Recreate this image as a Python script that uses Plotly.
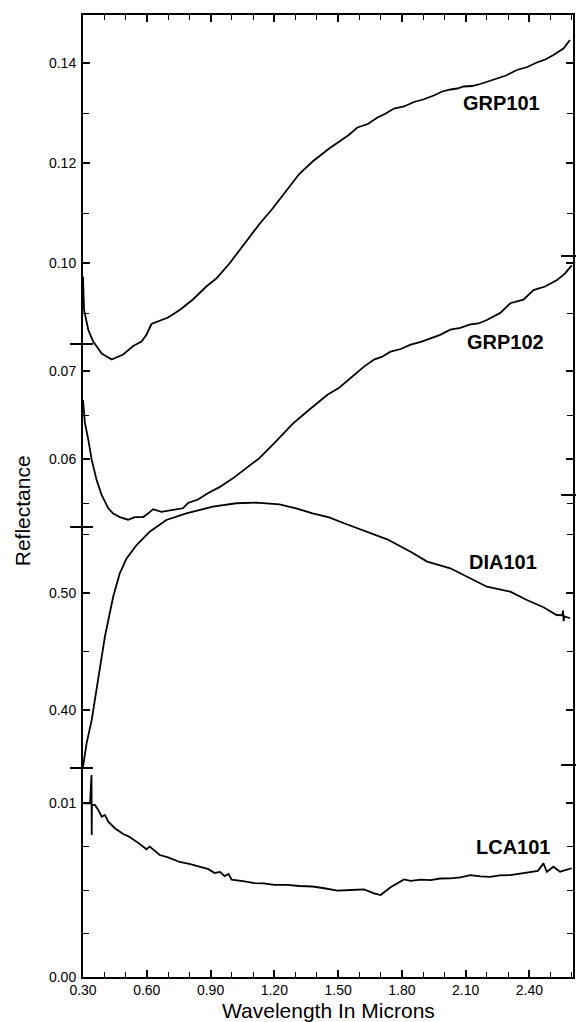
import plotly.graph_objects as go

# ---------------- data ----------------
wl_grp101 = [0.300, 0.305, 0.325, 0.348, 0.388, 0.435, 0.489, 0.536, 0.575, 0.598, 0.622, 0.653,
             0.700, 0.755, 0.817, 0.880, 0.927, 0.989, 1.067, 1.130, 1.192, 1.255, 1.317, 1.380,
             1.458, 1.513, 1.550, 1.591, 1.640, 1.685, 1.720, 1.763, 1.810, 1.857, 1.900, 1.950,
             1.990, 2.029, 2.060, 2.091, 2.130, 2.169, 2.210, 2.247, 2.290, 2.341, 2.390, 2.435,
             2.475, 2.513, 2.560, 2.591]
r_grp101 = [0.0973, 0.0906, 0.0866, 0.0843, 0.0819, 0.0807, 0.0817, 0.0834, 0.0843, 0.0856, 0.0878, 0.0883,
            0.0891, 0.0906, 0.0927, 0.0953, 0.0969, 0.0999, 0.1043, 0.1078, 0.1109, 0.1145, 0.1178, 0.1203,
            0.1229, 0.1245, 0.1256, 0.1271, 0.1278, 0.1291, 0.1298, 0.1309, 0.1313, 0.1322, 0.1327, 0.1335,
            0.1343, 0.1347, 0.1349, 0.1353, 0.1354, 0.1358, 0.1364, 0.1369, 0.1375, 0.1386, 0.1392, 0.1401,
            0.1407, 0.1416, 0.1429, 0.1446]

wl_grp102 = [0.300, 0.309, 0.325, 0.341, 0.364, 0.388, 0.419, 0.442, 0.473, 0.512, 0.544, 0.583,
             0.606, 0.630, 0.669, 0.716, 0.770, 0.794, 0.841, 0.887, 0.942, 1.005, 1.067, 1.130,
             1.208, 1.286, 1.364, 1.450, 1.505, 1.560, 1.622, 1.669, 1.705, 1.747, 1.795, 1.841,
             1.890, 1.935, 1.980, 2.028, 2.075, 2.122, 2.160, 2.200, 2.263, 2.310, 2.372, 2.419,
             2.474, 2.528, 2.568, 2.599]
r_grp102 = [0.0667, 0.0641, 0.0622, 0.0599, 0.0576, 0.0559, 0.0544, 0.0538, 0.0534, 0.0531, 0.0534, 0.0534,
            0.0538, 0.0543, 0.0540, 0.0542, 0.0544, 0.0550, 0.0554, 0.0561, 0.0568, 0.0578, 0.0589, 0.0601,
            0.0620, 0.0640, 0.0656, 0.0673, 0.0681, 0.0692, 0.0705, 0.0713, 0.0716, 0.0722, 0.0725, 0.0730,
            0.0733, 0.0737, 0.0741, 0.0747, 0.0749, 0.0753, 0.0754, 0.0758, 0.0766, 0.0777, 0.0781, 0.0792,
            0.0796, 0.0803, 0.0811, 0.0820]

wl_dia101 = [0.300, 0.317, 0.341, 0.364, 0.403, 0.442, 0.473, 0.505, 0.552, 0.614, 0.692, 0.786,
             0.911, 1.021, 1.115, 1.224, 1.302, 1.380, 1.458, 1.528, 1.622, 1.731, 1.841, 1.919,
             2.028, 2.122, 2.200, 2.310, 2.388, 2.466, 2.528, 2.555, 2.558, 2.561, 2.565, 2.591]
r_dia101 = [0.3515, 0.3715, 0.3915, 0.4171, 0.4627, 0.4968, 0.5168, 0.5296, 0.5410, 0.5524, 0.5624, 0.5681,
            0.5738, 0.5767, 0.5772, 0.5758, 0.5724, 0.5681, 0.5647, 0.5596, 0.5532, 0.5459, 0.5353, 0.5268,
            0.5211, 0.5126, 0.5054, 0.5011, 0.4940, 0.4878, 0.4812, 0.4810, 0.4850, 0.4760, 0.4800, 0.4784]

wl_lca101 = [0.305, 0.333, 0.340, 0.341, 0.342, 0.356, 0.372, 0.388, 0.403, 0.419, 0.450, 0.489,
             0.512, 0.552, 0.599, 0.614, 0.661, 0.700, 0.755, 0.800, 0.849, 0.890, 0.919, 0.945,
             0.966, 0.985, 0.999, 1.027, 1.060, 1.106, 1.150, 1.200, 1.260, 1.317, 1.380, 1.435,
             1.497, 1.560, 1.622, 1.669, 1.700, 1.747, 1.810, 1.841, 1.890, 1.935, 1.980, 2.028,
             2.075, 2.122, 2.170, 2.216, 2.260, 2.310, 2.360, 2.404, 2.440, 2.466, 2.482, 2.513,
             2.544, 2.599]
r_lca101 = [0.00998, 0.00998, 0.01161, 0.00816, 0.00990, 0.00989, 0.00960, 0.00921, 0.00931, 0.00893, 0.00855, 0.00822,
            0.00810, 0.00778, 0.00734, 0.00749, 0.00701, 0.00688, 0.00661, 0.00650, 0.00632, 0.00620, 0.00598, 0.00604,
            0.00580, 0.00592, 0.00560, 0.00557, 0.00550, 0.00540, 0.00538, 0.00529, 0.00530, 0.00523, 0.00520, 0.00510,
            0.00496, 0.00500, 0.00504, 0.00481, 0.00471, 0.00516, 0.00561, 0.00553, 0.00560, 0.00557, 0.00566, 0.00567,
            0.00572, 0.00586, 0.00578, 0.00576, 0.00584, 0.00586, 0.00594, 0.00605, 0.00610, 0.00653, 0.00605, 0.00634,
            0.00605, 0.00625]

sample_names = ["GRP101", "GRP102", "DIA101", "LCA101"]
x_tickvals = [0.30, 0.60, 0.90, 1.20, 1.50, 1.80, 2.10, 2.40]
x_ticktext = ["0.30", "0.60", "0.90", "1.20", "1.50", "1.80", "2.10", "2.40"]

grp101_ticks = [0.10, 0.12, 0.14]; grp101_text = ["0.10", "0.12", "0.14"]; grp101_minor = [0.09, 0.11, 0.13]
grp102_ticks = [0.06, 0.07]; grp102_text = ["0.06", "0.07"]; grp102_minor = [0.055, 0.065]
dia101_ticks = [0.40, 0.50]; dia101_text = ["0.40", "0.50"]; dia101_minor = [0.45, 0.55]
lca101_ticks = [0.00, 0.01]; lca101_text = ["0.00", "0.01"]; lca101_minor = [0.0025, 0.005, 0.0075]

# ---------------- layout geometry ----------------
W, H = 578, 1022
ML, MR, MT, MB = 83, 3, 15, 45
PLOT_TOP, PLOT_BOTTOM = MT, H - MB
PLOT_H = PLOT_BOTTOM - PLOT_TOP
PLOT_W = W - ML - MR
FONT = "Liberation Sans, Arial, Helvetica, sans-serif"


def axis_range(v1, p1, v2, p2):
    per_px = (v1 - v2) / (p2 - p1)
    return [v1 - (PLOT_BOTTOM - p1) * per_px, v1 + (p1 - PLOT_TOP) * per_px]


ranges = [axis_range(0.14, 63, 0.10, 263),
          axis_range(0.07, 371, 0.06, 459),
          axis_range(0.50, 593, 0.40, 710),
          axis_range(0.01, 803, 0.00, 977)]

fig = go.Figure()
series = [(wl_grp101, r_grp101), (wl_grp102, r_grp102), (wl_dia101, r_dia101), (wl_lca101, r_lca101)]
for i, (xs, ys) in enumerate(series):
    fig.add_trace(go.Scatter(x=xs, y=ys, mode="lines", name=sample_names[i],
                             yaxis="y" if i == 0 else f"y{i+1}",
                             line=dict(color="black", width=1.8), showlegend=False))

tick_sets = [(grp101_ticks, grp101_text, grp101_minor), (grp102_ticks, grp102_text, grp102_minor),
             (dia101_ticks, dia101_text, dia101_minor), (lca101_ticks, lca101_text, lca101_minor)]
for i, (tv, tt, mv) in enumerate(tick_sets):
    ax = dict(range=ranges[i], domain=[0, 1], tickmode="array", tickvals=tv, ticktext=tt,
              ticks="inside", ticklen=7, tickwidth=1.6, tickcolor="black",
              showline=True, linewidth=2, linecolor="black", mirror="ticks",
              showgrid=False, zeroline=False, ticklabelstandoff=2,
              tickfont=dict(family=FONT, size=14, color="black"),
              minor=dict(tickmode="array", tickvals=mv, ticks="inside", ticklen=6,
                         tickwidth=1.4, tickcolor="black", showgrid=False),
              fixedrange=True)
    if i == 0:
        fig.update_layout(yaxis=ax)
    else:
        ax.update(overlaying="y", side="left", anchor="x")
        fig.update_layout(**{f"yaxis{i+1}": ax})

fig.update_layout(
    width=W, height=H, margin=dict(l=ML, r=MR, t=MT, b=MB, pad=0),
    plot_bgcolor="white", paper_bgcolor="white",
    font=dict(family=FONT, color="black"),
    xaxis=dict(range=[0.30, 2.605], tickmode="array", tickvals=x_tickvals, ticktext=x_ticktext,
               ticks="inside", ticklen=7, tickwidth=1.6, tickcolor="black",
               showline=True, linewidth=2, linecolor="black", mirror="ticks",
               showgrid=False, zeroline=False, ticklabelstandoff=-1,
               tickfont=dict(family=FONT, size=14, color="black"),
               minor=dict(dtick=0.1, tick0=0.3, ticks="inside", ticklen=5, tickwidth=1.4,
                          tickcolor="black", showgrid=False)),
)

# axis titles
fig.add_annotation(text="Wavelength In Microns", xref="paper", yref="paper",
                   x=0.5, y=(PLOT_BOTTOM - 1010) / PLOT_H, showarrow=False,
                   xanchor="center", yanchor="middle",
                   font=dict(family=FONT, size=21, color="black"))
fig.add_annotation(text="Reflectance", textangle=-90, xref="paper", yref="paper",
                   x=(22 - ML) / PLOT_W, y=(PLOT_BOTTOM - 511) / PLOT_H, showarrow=False,
                   xanchor="center", yanchor="middle",
                   font=dict(family=FONT, size=21, color="black"))

# sample labels
label_pos = [(2.269, 0.1320, "y"), (2.288, 0.0733, "y2"), (2.278, 0.5265, "y3"), (2.321, 0.00747, "y4")]
for name, (lx, ly, yr) in zip(sample_names, label_pos):
    fig.add_annotation(text=f"<b>{name}</b>", x=lx, y=ly, xref="x", yref=yr, showarrow=False,
                       xanchor="center", yanchor="middle",
                       font=dict(family=FONT, size=20, color="black"))

# axis-break crosses on the left and right spines
left_breaks = [344, 527, 768]
right_breaks = [256, 495, 765]
for p in left_breaks:
    yy = (PLOT_BOTTOM - p) / PLOT_H
    fig.add_shape(type="line", xref="paper", yref="paper", x0=(70 - ML) / PLOT_W, x1=(93 - ML) / PLOT_W,
                  y0=yy, y1=yy, line=dict(color="black", width=2))
for p in right_breaks:
    yy = (PLOT_BOTTOM - p) / PLOT_H
    fig.add_shape(type="line", xref="paper", yref="paper", x0=(563 - ML) / PLOT_W, x1=(578 - ML) / PLOT_W,
                  y0=yy, y1=yy, line=dict(color="black", width=2))

fig.write_html("out.html")
